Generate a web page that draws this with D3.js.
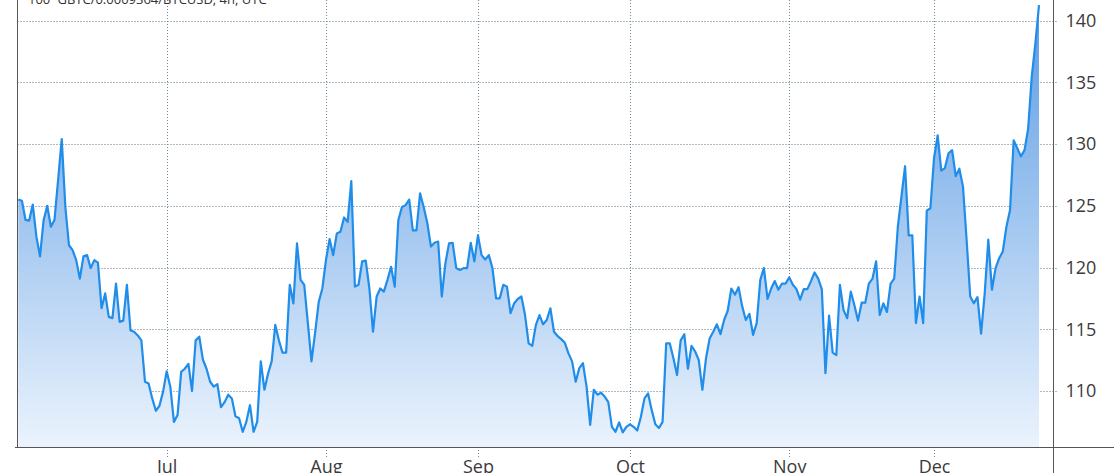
<!DOCTYPE html>
<html>
<head>
<meta charset="utf-8">
<script src="https://cdn.jsdelivr.net/npm/d3@7"></script>
<style>
  html, body { margin: 0; padding: 0; background: #ffffff; overflow: hidden; }
  svg { display: block; }
  text { font-family: "Open Sans", "Noto Sans", sans-serif; }
</style>
</head>
<body>
<svg id="chart" width="1114" height="473"></svg>
<script>
// ---- data (4h bars, trading sessions only) ----
const titleText = "100*GBTC/0.0009364/BTCUSD, 4h, UTC";

const values = [
  125.5, 125.4, 123.85, 123.8, 125.1, 122.5, 120.9, 123.85, 125.0, 123.3,
  123.85, 127.1, 130.4, 124.9, 121.8, 121.4, 120.6, 119.1, 120.9, 121.0,
  119.95, 120.6, 120.4, 116.7, 117.9, 116.0, 115.9, 118.7, 115.6, 115.7,
  118.6, 114.9, 114.8, 114.5, 114.1, 110.75, 110.6, 109.4, 108.4, 108.8,
  109.95, 111.6, 110.35, 107.5, 108.05, 111.55, 111.8, 112.2, 110.0, 114.1,
  114.4, 112.55, 111.8, 110.75, 110.35, 110.55, 108.7, 109.1, 109.7, 109.4,
  107.95, 107.8, 106.7, 107.5, 108.85, 106.7, 107.5, 112.4, 110.1, 111.4,
  112.4, 115.35, 114.1, 113.1, 113.1, 118.6, 117.1, 121.95, 119.0, 118.6,
  115.5, 112.4, 114.7, 117.2, 118.3, 120.6, 122.3, 121.0, 122.75, 122.9,
  124.05, 123.7, 127.0, 118.45, 118.6, 120.5, 120.55, 118.3, 114.8, 117.65,
  118.3, 118.05, 119.0, 120.05, 118.45, 123.85, 124.9, 125.05, 125.5, 123.0,
  123.0, 126.0, 124.9, 123.6, 121.7, 122.0, 122.1, 117.65, 120.35, 121.95,
  122.0, 119.95, 119.8, 119.95, 119.95, 122.0, 120.5, 122.6, 121.0, 120.65,
  121.0, 119.95, 117.5, 117.5, 118.6, 118.45, 116.3, 117.1, 117.45, 117.65,
  116.15, 113.85, 113.65, 115.35, 116.15, 115.4, 115.75, 116.7, 114.8, 114.45,
  114.2, 113.9, 113.05, 112.4, 110.75, 111.85, 112.25, 110.35, 107.25, 110.1,
  109.7, 109.85, 109.55, 109.1, 107.1, 106.7, 107.45, 106.65, 107.1, 107.3,
  107.1, 106.8, 107.9, 109.4, 109.8, 108.45, 107.3, 107.0, 107.5, 113.85,
  113.85, 112.65, 111.3, 114.1, 114.6, 111.8, 113.65, 113.2, 112.5, 110.1,
  112.65, 114.25, 114.8, 115.4, 114.6, 115.75, 116.5, 118.3, 117.8, 118.4,
  116.85, 115.75, 116.25, 114.55, 115.5, 119.0, 119.95, 117.45, 118.3, 118.9,
  118.2, 118.7, 118.7, 119.2, 118.6, 118.25, 117.4, 118.25, 118.25, 118.9,
  119.6, 119.1, 118.25, 111.45, 116.1, 113.1, 112.9, 118.6, 116.55, 115.9,
  118.05, 116.95, 115.7, 117.15, 117.15, 118.7, 119.1, 120.5, 116.15, 117.1,
  116.4, 118.7, 119.1, 123.3, 125.75, 128.2, 122.6, 122.6, 115.5, 117.65,
  115.5, 124.6, 124.8, 128.85, 130.7, 127.85, 128.05, 129.25, 129.5, 127.4,
  128.0, 126.55, 122.25, 117.65, 117.1, 117.6, 114.65, 117.9, 122.25, 118.2,
  119.95, 120.75, 121.3, 123.3, 124.65, 130.3, 129.65, 129.0, 129.5, 131.25,
  135.45, 138.15, 141.25
];

const monthLabels = ["Jul", "Aug", "Sep", "Oct", "Nov", "Dec"];
const monthBarIndex = [41, 85, 127, 169, 213, 253];   // bar index where each month starts
const yTicks = [110, 115, 120, 125, 130, 135, 140];

// ---- layout ----
const W = 1114, H = 473;
const plotLeft = 17.5, plotRight = 1053.5, plotTop = 0, plotBottom = 447;

const svg = d3.select("#chart");

const x = d3.scaleLinear().domain([0, values.length - 1]).range([18.3, 1039]);
const y = d3.scaleLinear().domain([110, 140]).range([391, 20.5]);

// gradient
const defs = svg.append("defs");
const grad = defs.append("linearGradient")
  .attr("id", "areaGrad")
  .attr("gradientUnits", "userSpaceOnUse")
  .attr("x1", 0).attr("y1", 0).attr("x2", 0).attr("y2", plotBottom);
grad.append("stop").attr("offset", "0%").attr("stop-color", "#5a9be3");
grad.append("stop").attr("offset", "100%").attr("stop-color", "#ebf3fd");

// horizontal grid
svg.append("g").selectAll("line").data(yTicks).join("line")
  .attr("x1", plotLeft).attr("x2", plotRight + 4)
  .attr("y1", d => Math.round(y(d)) + 0.5).attr("y2", d => Math.round(y(d)) + 0.5)
  .attr("stroke", "#5f7384").attr("stroke-width", 1).attr("stroke-dasharray", "1,2");

// vertical grid
svg.append("g").selectAll("line").data(monthBarIndex).join("line")
  .attr("x1", d => Math.round(x(d)) + 0.5).attr("x2", d => Math.round(x(d)) + 0.5)
  .attr("y1", plotTop).attr("y2", 459)
  .attr("stroke", "#6a8798").attr("stroke-width", 1).attr("stroke-dasharray", "1,2");

// area + line
const area = d3.area()
  .x((d, i) => x(i))
  .y0(plotBottom)
  .y1(d => y(d));
const line = d3.line()
  .x((d, i) => x(i))
  .y(d => y(d));

svg.append("path").datum(values)
  .attr("d", area)
  .attr("fill", "url(#areaGrad)");

svg.append("path").datum(values)
  .attr("d", line)
  .attr("fill", "none")
  .attr("stroke", "#1f8de9")
  .attr("stroke-width", 2.2)
  .attr("stroke-linejoin", "round");

// frame lines
svg.append("line").attr("x1", plotLeft).attr("x2", plotLeft).attr("y1", 0).attr("y2", plotBottom)
  .attr("stroke", "#555").attr("stroke-width", 1);
svg.append("line").attr("x1", 15).attr("x2", W).attr("y1", plotBottom + 0.5).attr("y2", plotBottom + 0.5)
  .attr("stroke", "#555").attr("stroke-width", 1);

// right axis
const yAxis = d3.axisRight(y).tickValues(yTicks).tickSize(0).tickPadding(12).tickFormat(d3.format("d"));
const gy = svg.append("g").attr("transform", `translate(${plotRight},0)`).call(yAxis);
gy.select(".domain").remove();
gy.selectAll("text").attr("font-size", 18).attr("fill", "#3a3a3a").attr("font-family", "'Open Sans', sans-serif");
svg.append("line").attr("x1", plotRight).attr("x2", plotRight).attr("y1", 0).attr("y2", H)
  .attr("stroke", "#555").attr("stroke-width", 1);

// bottom month labels
const xAxis = d3.axisBottom(x).tickValues(monthBarIndex).tickSize(0).tickPadding(0)
  .tickFormat((d, i) => monthLabels[i]);
const gx = svg.append("g").attr("transform", `translate(0,${plotBottom})`).call(xAxis);
gx.select(".domain").remove();
gx.selectAll("text").attr("font-size", 18).attr("fill", "#3a3a3a")
  .attr("font-family", "'Open Sans', sans-serif")
  .attr("dy", null).attr("y", 26);

// title
svg.append("text").attr("x", 28).attr("y", 4)
  .attr("font-size", 13).attr("fill", "#333")
  .text(titleText);
</script>
</body>
</html>
